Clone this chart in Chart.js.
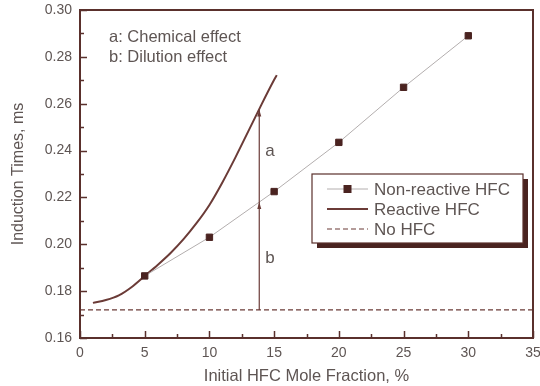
<!DOCTYPE html>
<html>
<head>
<meta charset="utf-8">
<script src="https://cdn.jsdelivr.net/npm/chart.js@4"></script>
<style>
    html, body { margin: 0; padding: 0; background: #fff; }
    #wrap { width: 540px; height: 386px; }
</style>
</head>
<body>
<div id="wrap"><canvas id="chart" width="540" height="386"></canvas></div>
<script>
// values
const nonReactiveX = [5, 10, 15, 20, 25, 30];
const nonReactiveY = [0.1865, 0.203, 0.2225, 0.2435, 0.267, 0.289];

const reactiveX = [1, 2, 3, 4, 5, 6, 7, 8, 9, 10, 11, 12, 13, 14, 15, 15.2];
const reactiveY = [0.175, 0.1762, 0.1782, 0.1818, 0.1865, 0.1912, 0.1963, 0.2022,
    0.209, 0.2168, 0.2264, 0.237, 0.2482, 0.2594, 0.2702, 0.2722];

const noHfcX = [0, 35];
const noHfcY = [0.172, 0.172];

const xTicks = [0, 5, 10, 15, 20, 25, 30, 35];
const yTicks = [0.16, 0.18, 0.20, 0.22, 0.24, 0.26, 0.28, 0.30];

// arrow: no HFC -> non-reactive (b) -> reactive (a)
const arrowX = 13.85;
const arrowLevels = [0.172, 0.218, 0.2575];
const arrowLabels = ['b', 'a'];
const arrowLabelY = [0.194, 0.2395];

const notes = ['a: Chemical effect', 'b: Dilution effect'];
const legendLabels = ['Non-reactive HFC', 'Reactive HFC', 'No HFC'];

const axisColor = '#5a302c';
const textColor = '#5e5553';
const curveColor = '#6b3b37';
const font = 'Arial, "Liberation Sans", sans-serif';

function toPoints(xs, ys) {
    return xs.map(function (x, i) {
        return { x: x, y: ys[i] };
    });
}

const extras = {
    id: 'extras',
    afterDatasetsDraw: function (chart) {
        const ctx = chart.ctx;
        const xs = chart.scales.x;
        const ys = chart.scales.y;
        const area = chart.chartArea;

        ctx.save();

        // frame
        ctx.strokeStyle = axisColor;
        ctx.lineWidth = 2;
        ctx.strokeRect(area.left, area.top, area.right - area.left, area.bottom - area.top);

        // inward ticks, major and minor
        ctx.lineWidth = 1.5;
        ctx.beginPath();
        for (let v = 0; v <= 35.001; v += 2.5) {
            const px = Math.round(xs.getPixelForValue(v)) + 0.5;
            const len = Math.abs(v % 5) < 0.01 ? 7 : 4;
            ctx.moveTo(px, area.bottom);
            ctx.lineTo(px, area.bottom - len);
        }
        for (let i = 0; i <= 14; i++) {
            const v = 0.16 + i * 0.01;
            const py = Math.round(ys.getPixelForValue(v)) + 0.5;
            const len = i % 2 === 0 ? 7 : 4;
            ctx.moveTo(area.left, py);
            ctx.lineTo(area.left + len, py);
        }
        ctx.stroke();

        // vertical arrows
        const ax = xs.getPixelForValue(arrowX);
        ctx.strokeStyle = curveColor;
        ctx.fillStyle = curveColor;
        ctx.lineWidth = 1.2;
        ctx.beginPath();
        ctx.moveTo(ax, ys.getPixelForValue(arrowLevels[0]));
        ctx.lineTo(ax, ys.getPixelForValue(arrowLevels[2]));
        ctx.stroke();
        for (let i = 1; i < arrowLevels.length; i++) {
            const tip = ys.getPixelForValue(arrowLevels[i]);
            ctx.beginPath();
            ctx.moveTo(ax, tip);
            ctx.lineTo(ax - 2, tip + 7);
            ctx.lineTo(ax + 2, tip + 7);
            ctx.closePath();
            ctx.fill();
        }

        // a / b labels
        ctx.fillStyle = textColor;
        ctx.font = '17px ' + font;
        ctx.textAlign = 'left';
        ctx.textBaseline = 'middle';
        arrowLabels.forEach(function (t, i) {
            ctx.fillText(t, ax + 6, ys.getPixelForValue(arrowLabelY[i]));
        });

        // notes top-left
        ctx.font = '16.5px ' + font;
        notes.forEach(function (t, i) {
            ctx.fillText(t, area.left + 29, area.top + 27 + i * 20);
        });

        // legend box with shadow
        const lx = 312, ly = 174, lw = 211, lh = 69;
        ctx.fillStyle = '#4a2320';
        ctx.fillRect(lx + 5, ly + 5, lw, lh);
        ctx.fillStyle = '#fff';
        ctx.fillRect(lx, ly, lw, lh);
        ctx.strokeStyle = axisColor;
        ctx.lineWidth = 1.2;
        ctx.strokeRect(lx, ly, lw, lh);

        const sx0 = 327, sx1 = 368;
        const rows = [ly + 15, ly + 35, ly + 55];
        chart.data.datasets.forEach(function (ds, i) {
            const ry = rows[i];
            ctx.save();
            ctx.strokeStyle = ds.borderColor;
            ctx.lineWidth = ds.borderWidth;
            ctx.setLineDash(ds.borderDash || []);
            ctx.beginPath();
            ctx.moveTo(sx0, ry);
            ctx.lineTo(sx1, ry);
            ctx.stroke();
            ctx.restore();
            if (ds.pointRadius > 0) {
                ctx.fillStyle = ds.pointBackgroundColor;
                ctx.fillRect((sx0 + sx1) / 2 - 4, ry - 4, 8, 8);
            }
            ctx.fillStyle = textColor;
            ctx.font = '17px ' + font;
            ctx.fillText(legendLabels[i], 374, ry + 1);
        });

        ctx.restore();
    }
};

new Chart(document.getElementById('chart'), {
    type: 'line',
    data: {
        datasets: [{
            label: legendLabels[0],
            data: toPoints(nonReactiveX, nonReactiveY),
            borderColor: '#b3aeae',
            borderWidth: 1,
            pointStyle: 'rect',
            pointRadius: 4.5,
            pointBackgroundColor: '#4a2320',
            pointBorderColor: '#4a2320',
            tension: 0
        }, {
            label: legendLabels[1],
            data: toPoints(reactiveX, reactiveY),
            borderColor: curveColor,
            borderWidth: 2,
            pointRadius: 0,
            cubicInterpolationMode: 'monotone'
        }, {
            label: legendLabels[2],
            data: toPoints(noHfcX, noHfcY),
            borderColor: curveColor,
            borderWidth: 1.2,
            borderDash: [5, 3],
            pointRadius: 0
        }]
    },
    options: {
        responsive: false,
        animation: false,
        layout: {
            padding: { top: 10, right: 7, left: 0, bottom: 0 }
        },
        plugins: {
            legend: { display: false },
            tooltip: { enabled: false }
        },
        scales: {
            x: {
                type: 'linear',
                min: 0,
                max: 35,
                afterBuildTicks: function (scale) {
                    scale.ticks = xTicks.map(function (v) { return { value: v }; });
                },
                afterFit: function (scale) {
                    scale.height = 48;
                    scale.paddingLeft = 0;
                    scale.paddingRight = 0;
                },
                grid: { display: false, drawTicks: false },
                border: { display: false },
                ticks: {
                    color: textColor,
                    padding: 7,
                    font: { family: font, size: 14 }
                },
                title: {
                    display: true,
                    text: 'Initial HFC Mole Fraction, %',
                    color: textColor,
                    font: { family: font, size: 16.5 },
                    padding: { top: 4, bottom: 0 }
                }
            },
            y: {
                type: 'linear',
                min: 0.16,
                max: 0.30,
                afterBuildTicks: function (scale) {
                    scale.ticks = yTicks.map(function (v) { return { value: v }; });
                },
                afterFit: function (scale) {
                    scale.width = 80;
                    scale.paddingTop = 0;
                    scale.paddingBottom = 0;
                },
                grid: { display: false, drawTicks: false },
                border: { display: false },
                ticks: {
                    color: textColor,
                    padding: 8,
                    font: { family: font, size: 14 },
                    callback: function (v) { return Number(v).toFixed(2); }
                },
                title: {
                    display: true,
                    text: 'Induction Times, ms',
                    color: textColor,
                    font: { family: font, size: 16 },
                    padding: { top: 9, bottom: 0 }
                }
            }
        }
    },
    plugins: [extras]
});
</script>
</body>
</html>
